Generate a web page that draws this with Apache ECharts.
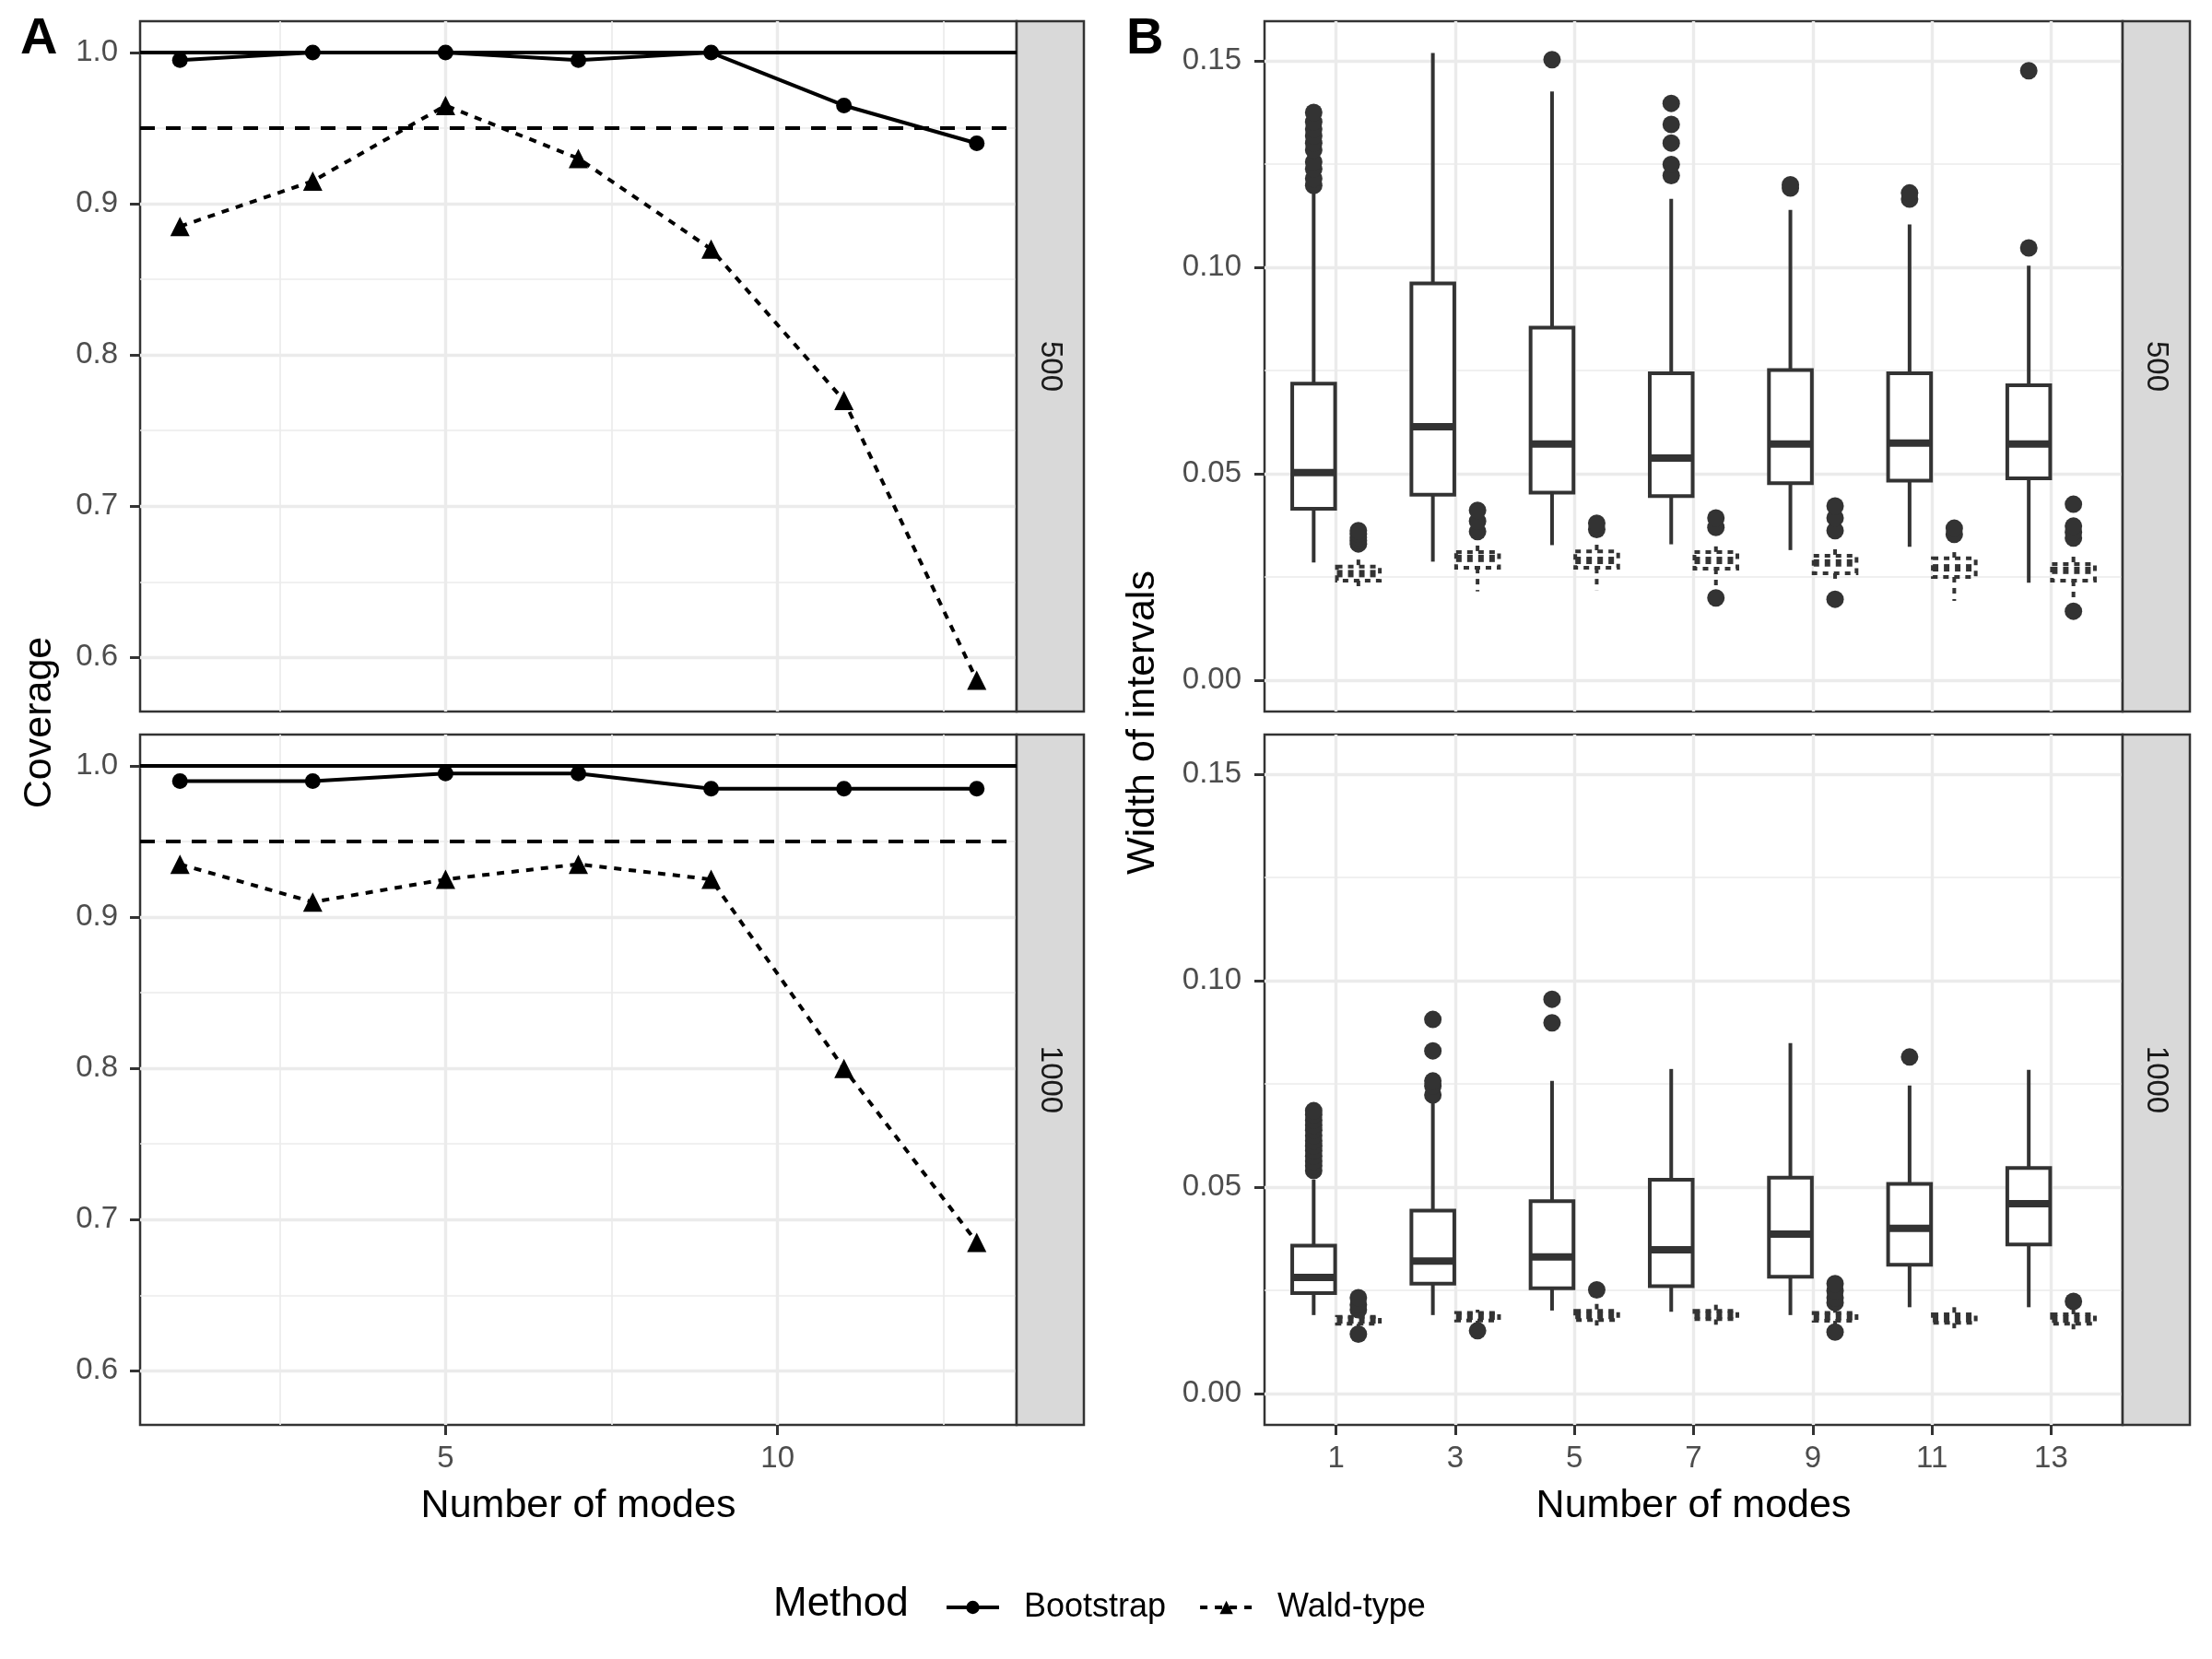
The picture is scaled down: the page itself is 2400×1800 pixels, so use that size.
<!DOCTYPE html>
<html>
<head>
<meta charset="utf-8">
<title>Coverage and width of intervals</title>
<script src="https://cdn.jsdelivr.net/npm/echarts@6/dist/echarts.min.js"></script>
<style>
	html, body { margin: 0; padding: 0; background: #ffffff; }
	#chart { width: 2400px; height: 1800px; }
</style>
</head>
<body>
<div id="chart"></div>
<script>
// number of modes (x for both panels)
var modes = [1, 3, 5, 7, 9, 11, 13];

// panel A: coverage
var coverBoot500 = [0.995, 1.0, 1.0, 0.995, 1.0, 0.965, 0.94];
var coverWald500 = [0.885, 0.915, 0.965, 0.93, 0.87, 0.77, 0.585];
var coverBoot1000 = [0.99, 0.99, 0.995, 0.995, 0.985, 0.985, 0.985];
var coverWald1000 = [0.935, 0.91, 0.925, 0.935, 0.925, 0.80, 0.685];
var coverageRefs = [1.0, 0.95];

// tick labels
var coverageTicks = [0.6, 0.7, 0.8, 0.9, 1.0];
var coverageMinor = [0.65, 0.75, 0.85, 0.95];
var modeTicksA = [5, 10];
var modeMinorA = [2.5, 7.5, 12.5];
var widthTicks = [0, 0.05, 0.10, 0.15];
var widthMinor = [0.025, 0.075, 0.125];

// panel B: box stats per mode [lower whisker, q1, median, q3, upper whisker]
var boxBoot500 = [
	[0.0285, 0.0415, 0.0503, 0.0718, 0.1185],
	[0.0287, 0.0449, 0.0614, 0.0961, 0.1519],
	[0.0327, 0.0454, 0.0572, 0.0854, 0.1426],
	[0.0329, 0.0446, 0.0538, 0.0743, 0.1166],
	[0.0315, 0.0477, 0.0572, 0.0751, 0.1139],
	[0.0323, 0.0483, 0.0574, 0.0743, 0.1104],
	[0.0236, 0.0489, 0.0572, 0.0714, 0.1004]
];
var outBoot500 = [
	[0.1198, 0.1215, 0.1238, 0.1255, 0.1284, 0.1301, 0.1318, 0.1335, 0.1352, 0.1375],
	[],
	[0.1503],
	[0.1222, 0.1249, 0.1301, 0.1346, 0.1397],
	[0.1192, 0.1200],
	[0.1165, 0.1180],
	[0.1047, 0.1476]
];
var boxWald500 = [
	[0.0225, 0.0241, 0.0258, 0.0275, 0.0292],
	[0.0215, 0.0272, 0.0295, 0.0310, 0.0326],
	[0.0218, 0.0272, 0.0290, 0.0312, 0.0328],
	[0.0225, 0.0270, 0.0290, 0.0310, 0.0324],
	[0.0241, 0.0259, 0.0284, 0.0301, 0.0317],
	[0.0192, 0.0250, 0.0272, 0.0295, 0.0310],
	[0.0194, 0.0241, 0.0266, 0.0281, 0.0299]
];
var outWald500 = [
	[0.0330, 0.0338, 0.0346, 0.0354, 0.0362],
	[0.0360, 0.0385, 0.0411],
	[0.0365, 0.0380],
	[0.0199, 0.0370, 0.0393],
	[0.0196, 0.0362, 0.0393, 0.0422],
	[0.0353, 0.0368],
	[0.0167, 0.0344, 0.0358, 0.0373, 0.0426]
];
var boxBoot1000 = [
	[0.0190, 0.0243, 0.0281, 0.0358, 0.0518],
	[0.0190, 0.0266, 0.0321, 0.0443, 0.0712],
	[0.0201, 0.0255, 0.0331, 0.0466, 0.0757],
	[0.0198, 0.0260, 0.0348, 0.0518, 0.0786],
	[0.0190, 0.0283, 0.0386, 0.0523, 0.0849],
	[0.0209, 0.0312, 0.0400, 0.0508, 0.0746],
	[0.0209, 0.0361, 0.0460, 0.0546, 0.0784]
];
var outBoot1000 = [
	[0.0540, 0.0552, 0.0563, 0.0575, 0.0588, 0.0600, 0.0612, 0.0625, 0.0638, 0.0650, 0.0662, 0.0675, 0.0685],
	[0.0723, 0.0745, 0.0757, 0.0830, 0.0906],
	[0.0898, 0.0955],
	[],
	[],
	[0.0815],
	[]
];
var boxWald1000 = [
	[0.0163, 0.0169, 0.0178, 0.0186, 0.0195],
	[0.0169, 0.0177, 0.0187, 0.0195, 0.0203],
	[0.0163, 0.0178, 0.0189, 0.0200, 0.0217],
	[0.0166, 0.0180, 0.0190, 0.0200, 0.0215],
	[0.0163, 0.0176, 0.0186, 0.0195, 0.0208],
	[0.0158, 0.0171, 0.0181, 0.0192, 0.0209],
	[0.0154, 0.0169, 0.0180, 0.0192, 0.0203]
];
var outWald1000 = [
	[0.0144, 0.0203, 0.0215, 0.0232],
	[0.0152],
	[0.0251],
	[],
	[0.0149, 0.0220, 0.0232, 0.0249, 0.0266],
	[],
	[0.0223]
];

var FONT = "Liberation Sans, Arial, sans-serif";
var INK = "#333333";
var GRID_MAJOR = {color: "#EBEBEB", width: 3.4};
var GRID_MINOR = {color: "#EBEBEB", width: 1.7};
var DODGE = 0.375;     // in mode units, one category = 2 units
var BOX_WIDTH = 0.72;

var colA = {left: 152, width: 951};
var colB = {left: 1372, width: 931};
var rows = [{top: 23, height: 749}, {top: 797, height: 749}];
var STRIP = 73;

function pairs(xs, ys) {
	return xs.map(function (x, i) {
		return [x, ys[i]];
	});
}

function boxRows(stats) {
	return stats.map(function (s, i) {
		return [modes[i]].concat(s);
	});
}

function outlierPoints(outs, dodge) {
	var pts = [];
	outs.forEach(function (list, i) {
		list.forEach(function (v) {
			pts.push([modes[i] + dodge, v]);
		});
	});
	return pts;
}

function mainAxis(gridIndex, min, max, ticks, showTicks, fmt, margin) {
	return {
		type: "value",
		gridIndex: gridIndex,
		min: min,
		max: max,
		axisLine: {show: false, onZero: false},
		axisTick: {show: showTicks, customValues: ticks, length: 11, lineStyle: {color: INK, width: 3}},
		axisLabel: {
			show: showTicks, customValues: ticks, margin: margin,
			fontSize: 33, color: "#4D4D4D", fontFamily: FONT, formatter: fmt
		},
		splitLine: {show: true, lineStyle: GRID_MAJOR}
	};
}

function minorAxis(gridIndex, min, max, ticks, position) {
	return {
		type: "value",
		gridIndex: gridIndex,
		position: position,
		min: min,
		max: max,
		axisLine: {show: false, onZero: false},
		axisTick: {show: false, customValues: ticks},
		axisLabel: {show: false, customValues: ticks},
		splitLine: {show: true, lineStyle: GRID_MINOR}
	};
}

var fmtInt = function (v) { return String(v); };
var fmt1 = function (v) { return v.toFixed(1); };
var fmt2 = function (v) { return v.toFixed(2); };

var yA = [0.56425, 1.02075];
var yB = [-0.0076, 0.1596];
var xA = [0.4, 13.6];
var xB = [-0.2, 14.2];

function boxRenderer(dodge, dash) {
	return function (params, api) {
		var x = api.value(0) + dodge;
		var lo = api.coord([x, api.value(1)]);
		var q1 = api.coord([x, api.value(2)]);
		var med = api.coord([x, api.value(3)]);
		var q3 = api.coord([x, api.value(4)]);
		var hi = api.coord([x, api.value(5)]);
		var half = api.size([BOX_WIDTH, 0])[0] / 2;
		var cx = lo[0];
		var line = {stroke: INK, lineWidth: 4, lineDash: dash, fill: null};
		return {
			type: "group",
			children: [
				{type: "line", shape: {x1: cx, y1: hi[1], x2: cx, y2: q3[1]}, style: line},
				{type: "line", shape: {x1: cx, y1: q1[1], x2: cx, y2: lo[1]}, style: line},
				{
					type: "rect",
					shape: {x: cx - half, y: q3[1], width: half * 2, height: q1[1] - q3[1]},
					style: {fill: "#ffffff", stroke: INK, lineWidth: 4, lineDash: dash}
				},
				{
					type: "line",
					shape: {x1: cx - half, y1: med[1], x2: cx + half, y2: med[1]},
					style: {stroke: INK, lineWidth: 8, lineDash: dash}
				}
			]
		};
	};
}

function coverageSeries(name, xi, data, isBoot) {
	var s = {
		type: "line",
		name: name,
		xAxisIndex: xi,
		yAxisIndex: xi,
		data: data,
		symbol: isBoot ? "circle" : "triangle",
		symbolSize: isBoot ? 17 : 21,
		showSymbol: true,
		lineStyle: {color: "#000000", width: 4, type: isBoot ? "solid" : [8, 8]},
		itemStyle: {color: "#000000"},
		z: 3
	};
	if (isBoot) {
		s.markLine = {
			silent: true,
			symbol: ["none", "none"],
			label: {show: false},
			lineStyle: {color: "#000000", width: 4},
			data: [
				{yAxis: coverageRefs[0], lineStyle: {type: "solid"}},
				{yAxis: coverageRefs[1], lineStyle: {type: [16, 12]}}
			]
		};
	}
	return s;
}

function boxSeries(xi, stats, dodge, dash) {
	return {
		type: "custom",
		name: dash ? "Wald-type box" : "Bootstrap box",
		xAxisIndex: xi,
		yAxisIndex: xi,
		data: boxRows(stats),
		renderItem: boxRenderer(dodge, dash),
		z: 2
	};
}

function outlierSeries(xi, outs, dodge) {
	return {
		type: "scatter",
		name: "outliers",
		xAxisIndex: xi,
		yAxisIndex: xi,
		data: outlierPoints(outs, dodge),
		symbol: "circle",
		symbolSize: 19,
		itemStyle: {color: INK, opacity: 1},
		z: 4
	};
}

var grids = [
	{left: colA.left, top: rows[0].top, width: colA.width, height: rows[0].height},
	{left: colA.left, top: rows[1].top, width: colA.width, height: rows[1].height},
	{left: colB.left, top: rows[0].top, width: colB.width, height: rows[0].height},
	{left: colB.left, top: rows[1].top, width: colB.width, height: rows[1].height}
].map(function (g) {
	g.show = true;
	g.backgroundColor = "#ffffff";
	g.borderColor = INK;
	g.borderWidth = 2.5;
	g.containLabel = false;
	g.outerBoundsMode = "none";
	return g;
});

var xAxes = [
	mainAxis(0, xA[0], xA[1], modeTicksA, false, fmtInt, 20),
	mainAxis(1, xA[0], xA[1], modeTicksA, true, fmtInt, 20),
	mainAxis(2, xB[0], xB[1], modes, false, fmtInt, 20),
	mainAxis(3, xB[0], xB[1], modes, true, fmtInt, 20),
	minorAxis(0, xA[0], xA[1], modeMinorA, "top"),
	minorAxis(1, xA[0], xA[1], modeMinorA, "top")
];
var yAxes = [
	mainAxis(0, yA[0], yA[1], coverageTicks, true, fmt1, 24),
	mainAxis(1, yA[0], yA[1], coverageTicks, true, fmt1, 24),
	mainAxis(2, yB[0], yB[1], widthTicks, true, fmt2, 25),
	mainAxis(3, yB[0], yB[1], widthTicks, true, fmt2, 25),
	minorAxis(0, yA[0], yA[1], coverageMinor, "right"),
	minorAxis(1, yA[0], yA[1], coverageMinor, "right"),
	minorAxis(2, yB[0], yB[1], widthMinor, "right"),
	minorAxis(3, yB[0], yB[1], widthMinor, "right")
];

var series = [
	coverageSeries("Bootstrap", 0, pairs(modes, coverBoot500), true),
	coverageSeries("Wald-type", 0, pairs(modes, coverWald500), false),
	coverageSeries("Bootstrap", 1, pairs(modes, coverBoot1000), true),
	coverageSeries("Wald-type", 1, pairs(modes, coverWald1000), false),
	boxSeries(2, boxBoot500, -DODGE, null),
	boxSeries(2, boxWald500, DODGE, [6, 6]),
	boxSeries(3, boxBoot1000, -DODGE, null),
	boxSeries(3, boxWald1000, DODGE, [6, 6]),
	outlierSeries(2, outBoot500, -DODGE),
	outlierSeries(2, outWald500, DODGE),
	outlierSeries(3, outBoot1000, -DODGE),
	outlierSeries(3, outWald1000, DODGE)
];

function textEl(text, x, y, size, opts) {
	opts = opts || {};
	return {
		type: "text",
		x: x,
		y: y,
		rotation: opts.rotation || 0,
		z: 10,
		style: {
			text: text,
			x: 0,
			y: 0,
			font: (opts.bold ? "bold " : "") + size + "px " + FONT,
			fill: opts.color || "#000000",
			align: opts.align || "center",
			textAlign: opts.align || "center",
			verticalAlign: "middle",
			textVerticalAlign: "middle"
		}
	};
}

var stripLabels = ["500", "1000"];
var graphics = [];
[colA, colB].forEach(function (col) {
	rows.forEach(function (row, r) {
		var sx = col.left + col.width;
		graphics.push({
			type: "rect",
			shape: {x: sx, y: row.top, width: STRIP, height: row.height},
			style: {fill: "#D9D9D9", stroke: INK, lineWidth: 2.5},
			z: 5
		});
		graphics.push(textEl(stripLabels[r], sx + STRIP / 2, row.top + row.height / 2, 33,
			{rotation: -Math.PI / 2, color: "#1A1A1A"}));
	});
});
graphics.push(textEl("A", 22, 43, 56, {bold: true, align: "left"}));
graphics.push(textEl("B", 1222, 43, 56, {bold: true, align: "left"}));
graphics.push(textEl("Coverage", 43, 784, 43, {rotation: Math.PI / 2}));
graphics.push(textEl("Width of intervals", 1240, 784, 43, {rotation: Math.PI / 2}));
graphics.push(textEl("Number of modes", colA.left + colA.width / 2, 1634, 43));
graphics.push(textEl("Number of modes", colB.left + colB.width / 2, 1634, 43));
graphics.push(textEl("Method", 839, 1741, 44, {align: "left"}));

var chart = echarts.init(document.getElementById("chart"), null, {renderer: "canvas"});
chart.setOption({
	backgroundColor: "#ffffff",
	animation: false,
	grid: grids,
	xAxis: xAxes,
	yAxis: yAxes,
	legend: {
		data: ["Bootstrap", "Wald-type"],
		left: 1020,
		top: 1721,
		orient: "horizontal",
		itemWidth: 57,
		itemHeight: 18,
		itemGap: 35,
		selectedMode: false,
		lineStyle: {width: 4},
		textStyle: {fontSize: 36, color: "#000000", fontFamily: FONT, padding: [0, 0, 0, 22]}
	},
	graphic: graphics,
	series: series
});
</script>
</body>
</html>
